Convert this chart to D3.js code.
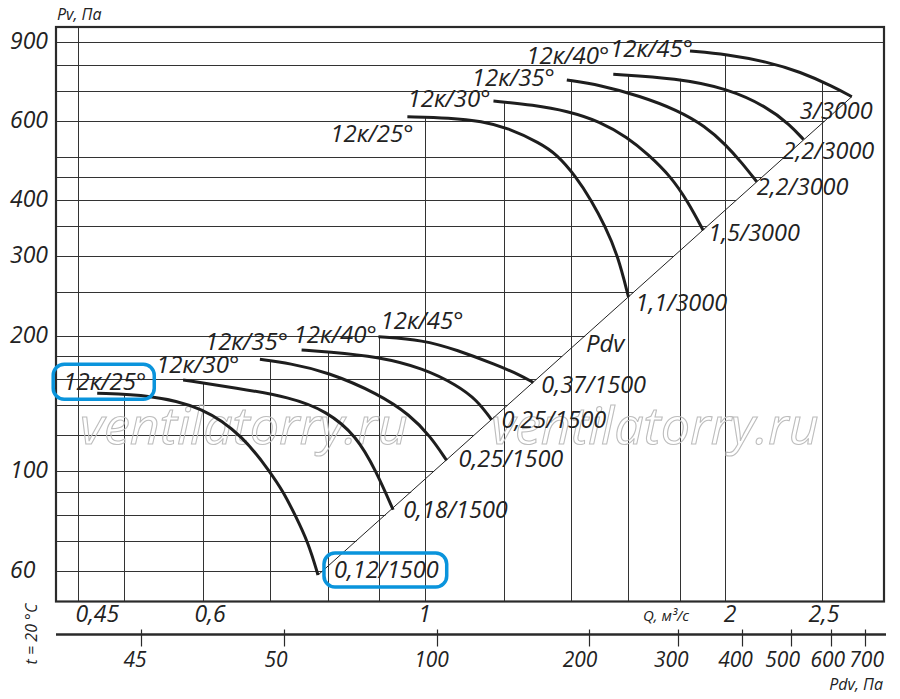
<!DOCTYPE html>
<html>
<head>
<meta charset="utf-8">
<script src="https://cdn.jsdelivr.net/npm/d3@7"></script>
<style>
  body { margin: 0; background: #fff; }
  svg { display: block; font-family: "Open Sans", "DejaVu Sans", sans-serif; font-style: italic; }
</style>
</head>
<body>
<svg id="chart" width="900" height="699"></svg>
<script>
// ---- axis values ----
var yTickValues = [900, 600, 400, 300, 200, 100, 60];
var yGridValues = [60, 70, 80, 90, 100, 120, 140, 160, 180, 200, 250, 300, 350, 400, 450, 500, 600, 700, 800, 900];
var qGridValues = [0.45, 0.5, 0.6, 0.7, 0.8, 0.9, 1, 1.2, 1.4, 1.6, 1.8, 2, 2.5];
var qTickValues = [0.45, 0.6, 1, 2, 2.5];
var qTickLabels = ["0,45", "0,6", "1", "2", "2,5"];
// the "45" tick sits where the original drawing puts it
var pdvTickValues = [26.1, 50, 100, 200, 300, 400, 500, 600, 700];
var pdvTickLabels = ["45", "50", "100", "200", "300", "400", "500", "600", "700"];

// ---- curves: [Q m3/s, Pv Pa] ----
var c1500_25 = [[0.470, 148.9], [0.531, 147.6], [0.600, 139.0], [0.659, 119.2], [0.700, 99.6], [0.722, 89.9], [0.741, 80.2], [0.765, 69.2], [0.782, 58.7]];
var c1500_30 = [[0.573, 159.4], [0.648, 153.0], [0.733, 146.0], [0.798, 136.0], [0.855, 119.6], [0.894, 100.0], [0.930, 82.0]];
var c1500_35 = [[0.684, 177.2], [0.733, 173.5], [0.798, 166.3], [0.899, 148.6], [0.967, 133.2], [1.013, 119.6], [1.052, 105.6]];
var c1500_40 = [[0.753, 185.9], [0.798, 184.3], [0.899, 179.6], [0.997, 169.2], [1.077, 155.3], [1.128, 143.9], [1.167, 130.0]];
var c1500_45 = [[0.899, 198.9], [0.997, 195.6], [1.077, 185.9], [1.181, 172.1], [1.246, 163.5], [1.285, 157.3]];
var c3000_25 = [[0.961, 613.8], [1.060, 610.5], [1.142, 600.0], [1.210, 580.0], [1.305, 536.4], [1.356, 506.3], [1.418, 451.4], [1.468, 400.6], [1.516, 350.7], [1.562, 300.8], [1.600, 244.0]];
var c3000_30 = [[1.172, 665.3], [1.285, 651.8], [1.390, 632.0], [1.498, 599.0], [1.596, 552.0], [1.674, 506.3], [1.765, 451.4], [1.835, 397.2], [1.901, 343.0]];
var c3000_35 = [[1.388, 740.8], [1.498, 722.0], [1.643, 682.5], [1.790, 635.3], [1.909, 585.2], [2.004, 531.0], [2.079, 484.2], [2.151, 440.0]];
var c3000_40 = [[1.545, 762.8], [1.788, 747.3], [2.007, 710.0], [2.201, 646.2], [2.323, 588.3], [2.396, 546.0]];
var c3000_45 = [[1.844, 859.5], [2.007, 845.1], [2.201, 813.5], [2.377, 773.0], [2.567, 715.8], [2.678, 680.0]];

var curveNames = ["12к/25°", "12к/30°", "12к/35°", "12к/40°", "12к/45°",
                  "12к/25°", "12к/30°", "12к/35°", "12к/40°", "12к/45°"];
var motorLabels = ["0,12/1500", "0,18/1500", "0,25/1500", "0,25/1500", "0,37/1500",
                   "1,1/3000", "1,5/3000", "2,2/3000", "2,2/3000", "3/3000"];

// dynamic pressure line (ends of the 25° / 1500 and 45° / 3000 curves)
var pdvLine = [[0.782, 58.7], [2.678, 680.0]];

var curves = [c1500_25, c1500_30, c1500_35, c1500_40, c1500_45,
              c3000_25, c3000_30, c3000_35, c3000_40, c3000_45];

// ---- layout ----
var plot = {left: 56, right: 884, top: 27, bottom: 601.5};
// label offsets in px: names from curve start, motors from curve end
var nameOffset = [[-34, -3], [-27, -7], [-55, -9], [-8, -7], [2, -8],
                  [-77, 25], [-86, 6], [-95, 6], [-87, -10], [-80, 6]];
var motorOffset = [[16, 3], [10, 8], [12, 7], [10, 8], [8, 10],
                   [7, 14], [5, 11], [0, 13], [-21, 19], [-52, 22]];
var qLabelDx = [19, 7, 0, 5, 2];
var pdvLabelDx = [-6, -8, -5, -9, -7, -6, -8, -3, 2];
var boxed = [0]; // curve index whose labels are framed in blue

var svg = d3.select("#chart");

var x = d3.scaleLog().domain([0.4274, 2.8844]).range([plot.left, plot.right]);
var y = d3.scaleLog().domain([51.26, 971.7]).range([plot.bottom, plot.top]);
var xPdv = d3.scaleLog().domain([17.74, 764.3]).range([plot.left, plot.right]);

function lerpLog(a, b, t) {
    return Math.exp(Math.log(a) + t * (Math.log(b) - Math.log(a)));
}

// Pv on a polyline at flow q (log-log), null outside
function pvAt(pts, q) {
    for (var i = 0; i < pts.length - 1; i++) {
        var a = pts[i], b = pts[i + 1];
        if (q >= a[0] && q <= b[0]) {
            var t = (Math.log(q) - Math.log(a[0])) / (Math.log(b[0]) - Math.log(a[0]));
            return lerpLog(a[1], b[1], t);
        }
    }
    return null;
}

// largest flow on a polyline where it reaches pressure pv
function qAt(pts, pv) {
    var best = null;
    for (var i = 0; i < pts.length - 1; i++) {
        var a = pts[i], b = pts[i + 1];
        var lo = Math.min(a[1], b[1]), hi = Math.max(a[1], b[1]);
        if (pv >= lo && pv <= hi && hi > lo) {
            var t = (Math.log(pv) - Math.log(a[1])) / (Math.log(b[1]) - Math.log(a[1]));
            var q = lerpLog(a[0], b[0], t);
            if (best === null || q > best) best = q;
        }
    }
    return best;
}

var crisp = v => Math.round(v) + 0.5;

// ---- grid: clipped to the area under the curves / left of Pdv ----
var grid = svg.append("g").attr("stroke", "#333").attr("stroke-width", 1);

yGridValues.forEach(v => {
    var ends = curves.concat([pdvLine]).map(c => qAt(c, v)).filter(q => q !== null);
    var xEnd = ends.length ? x(d3.max(ends)) : plot.right;
    grid.append("line")
        .attr("x1", plot.left).attr("x2", xEnd)
        .attr("y1", crisp(y(v))).attr("y2", crisp(y(v)));
});

qGridValues.forEach(v => {
    var tops = curves.map(c => pvAt(c, v)).filter(p => p !== null);
    var yTop = tops.length ? y(d3.max(tops)) : plot.top;
    grid.append("line")
        .attr("x1", crisp(x(v))).attr("x2", crisp(x(v)))
        .attr("y1", yTop).attr("y2", plot.bottom);
});

// watermark
[80, 491].forEach(px => {
    svg.append("text")
        .attr("x", px).attr("y", 444)
        .attr("font-size", 52)
        .attr("fill", "none")
        .attr("stroke", "#bdbdbd")
        .attr("stroke-width", 1.1)
        .text("ventilatorry.ru");
});

// frame
svg.append("rect")
    .attr("x", plot.left).attr("y", plot.top)
    .attr("width", plot.right - plot.left).attr("height", plot.bottom - plot.top)
    .attr("fill", "none").attr("stroke", "#2a2a2a").attr("stroke-width", 2.2);

// Pdv line
var line = d3.line().x(d => x(d[0])).y(d => y(d[1]));
svg.append("path")
    .attr("d", line(pdvLine))
    .attr("fill", "none").attr("stroke", "#222").attr("stroke-width", 1);

var mid = [(x(pdvLine[0][0]) + x(pdvLine[1][0])) / 2, (y(pdvLine[0][1]) + y(pdvLine[1][1])) / 2];
svg.append("text")
    .attr("x", mid[0] + 1).attr("y", mid[1] + 16)
    .attr("font-size", 24).attr("fill", "#222")
    .text("Pdv");

// curves
var curveLine = d3.line().x(d => x(d[0])).y(d => y(d[1])).curve(d3.curveBasis);
svg.append("g").selectAll("path")
    .data(curves)
    .enter()
    .append("path")
    .attr("d", d => curveLine(d))
    .attr("fill", "none")
    .attr("stroke", "#1e1e1e")
    .attr("stroke-width", 3);

// labels
var labels = svg.append("g").attr("fill", "#222");
curves.forEach((c, i) => {
    var s = c[0], e = c[c.length - 1];
    var nameText = labels.append("text")
        .attr("x", x(s[0]) + nameOffset[i][0])
        .attr("y", y(s[1]) + nameOffset[i][1])
        .attr("font-size", 24)
        .text(curveNames[i]);
    var motorText = labels.append("text")
        .attr("x", x(e[0]) + motorOffset[i][0])
        .attr("y", y(e[1]) + motorOffset[i][1])
        .attr("font-size", 23.5)
        .text(motorLabels[i]);

    if (boxed.indexOf(i) >= 0) {
        [nameText, motorText].forEach(t => {
            var b = t.node().getBBox();
            svg.append("rect")
                .attr("x", b.x - 10).attr("y", b.y)
                .attr("width", b.width + 18).attr("height", b.height + 2)
                .attr("rx", 11).attr("ry", 11)
                .attr("fill", "none")
                .attr("stroke", "#0a94dc")
                .attr("stroke-width", 3.5);
        });
    }
});

// y axis labels
svg.append("g").selectAll("text")
    .data(yTickValues)
    .enter()
    .append("text")
    .attr("x", 10)
    .attr("y", d => y(d) + 7)
    .attr("font-size", 23)
    .attr("fill", "#222")
    .text(d => d);

svg.append("text")
    .attr("x", 57).attr("y", 20)
    .attr("font-size", 16).attr("fill", "#222")
    .text("Pv, Па");

// Q labels under the frame
svg.append("g").selectAll("text")
    .data(qTickValues)
    .enter()
    .append("text")
    .attr("x", (d, i) => x(d) + qLabelDx[i])
    .attr("y", 622)
    .attr("text-anchor", "middle")
    .attr("font-size", 23)
    .attr("fill", "#222")
    .text((d, i) => qTickLabels[i]);

svg.append("text")
    .attr("x", 643).attr("y", 621)
    .attr("font-size", 15).attr("fill", "#222")
    .text("Q, м³/с");

// Pdv axis
var pdvAxisY = 634.5;
svg.append("line")
    .attr("x1", plot.left).attr("x2", plot.right + 2)
    .attr("y1", pdvAxisY).attr("y2", pdvAxisY)
    .attr("stroke", "#2a2a2a").attr("stroke-width", 2.5);

svg.append("g").selectAll("line")
    .data(pdvTickValues)
    .enter()
    .append("line")
    .attr("x1", d => crisp(xPdv(d))).attr("x2", d => crisp(xPdv(d)))
    .attr("y1", pdvAxisY - 5).attr("y2", pdvAxisY + 12)
    .attr("stroke", "#2a2a2a").attr("stroke-width", 1.2);

svg.append("g").selectAll("text")
    .data(pdvTickValues)
    .enter()
    .append("text")
    .attr("x", (d, i) => xPdv(d) + pdvLabelDx[i])
    .attr("y", 667)
    .attr("text-anchor", "middle")
    .attr("font-size", 21)
    .attr("fill", "#222")
    .text((d, i) => pdvTickLabels[i]);

svg.append("text")
    .attr("x", 883).attr("y", 690)
    .attr("text-anchor", "end")
    .attr("font-size", 16).attr("fill", "#222")
    .text("Pdv, Па");

svg.append("text")
    .attr("transform", "translate(37,634) rotate(-90)")
    .attr("text-anchor", "middle")
    .attr("font-size", 16).attr("fill", "#222")
    .text("t = 20 °C");
</script>
</body>
</html>
